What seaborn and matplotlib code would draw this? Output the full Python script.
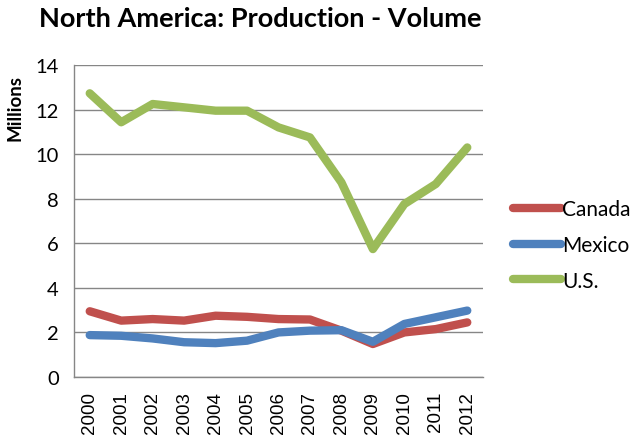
import matplotlib
matplotlib.use("Agg")
import matplotlib.pyplot as plt
import seaborn as sns
import pandas as pd

years = [str(y) for y in range(2000, 2013)]
canada = [2.95, 2.53, 2.60, 2.53, 2.75, 2.70, 2.60, 2.58, 2.08, 1.48, 2.00, 2.15, 2.45]
mexico = [1.88, 1.85, 1.73, 1.56, 1.52, 1.63, 2.00, 2.08, 2.10, 1.58, 2.38, 2.68, 2.98]
us = [12.73, 11.43, 12.25, 12.10, 11.95, 11.95, 11.20, 10.75, 8.73, 5.74, 7.76, 8.66, 10.30]
series_names = ["Canada", "Mexico", "U.S."]
colors = ["#C0504D", "#4F81BD", "#9BBB59"]
yticks = [0, 2, 4, 6, 8, 10, 12, 14]

df = pd.DataFrame({"Year": years * 3,
                   "Value": canada + mexico + us,
                   "Series": [s for s in series_names for _ in years]})

sns.set_theme(style="white")
plt.rcParams['font.family'] = ['Lato', 'DejaVu Sans']
plt.rcParams['text.color'] = 'black'
plt.rcParams['xtick.color'] = 'black'
plt.rcParams['ytick.color'] = 'black'
plt.rcParams['axes.labelcolor'] = 'black'

fig = plt.figure(figsize=(6.3, 4.39), dpi=100)
ax = fig.add_axes([74/630, 1-378/439, (483-74)/630, (378-66)/439])

sns.lineplot(data=df, x="Year", y="Value", hue="Series", palette=colors,
             linewidth=6, ax=ax, sort=False, solid_capstyle="round",
             solid_joinstyle="round")

ax.set_xlim(-0.5, len(years) - 0.5)
ax.set_ylim(0, 14)
ax.set_yticks(yticks)
ax.set_yticklabels([str(t) for t in yticks], fontsize=14.5, color="black")
ax.set_xticks(range(len(years)))
ax.set_xticklabels(years, rotation=90, fontsize=13.5, family="Liberation Sans",
                   color="black")
ax.tick_params(axis="y", length=0, pad=11)
ax.tick_params(axis="x", length=0, pad=10)
ax.set_xlabel("")
ax.set_ylabel("")
ax.grid(axis="y", color="#868686", linewidth=1)
ax.set_axisbelow(True)
for s in ["top", "right"]:
    ax.spines[s].set_visible(False)
for s in ["left", "bottom"]:
    ax.spines[s].set_color("#868686")
    ax.spines[s].set_linewidth(1)

leg = ax.legend(loc="center left", bbox_to_anchor=(513/630, 1-246/439),
                bbox_transform=fig.transFigure, frameon=False, fontsize=15,
                handlelength=2.3, handletextpad=0.05, labelspacing=0.75,
                borderaxespad=0, borderpad=0)
for line in leg.get_lines():
    line.set_linewidth(6)
for t in leg.get_texts():
    t.set_color("black")

fig.text(260/630, 1-19/439, "North America: Production - Volume", ha="center",
         va="center", fontsize=19.5, fontweight="bold", color="black")
fig.text(15/630, 1-108/439, "Millions", rotation=90, ha="center", va="center",
         fontsize=13.5, fontweight="bold", color="black")

fig.savefig("out.png", dpi=100)
